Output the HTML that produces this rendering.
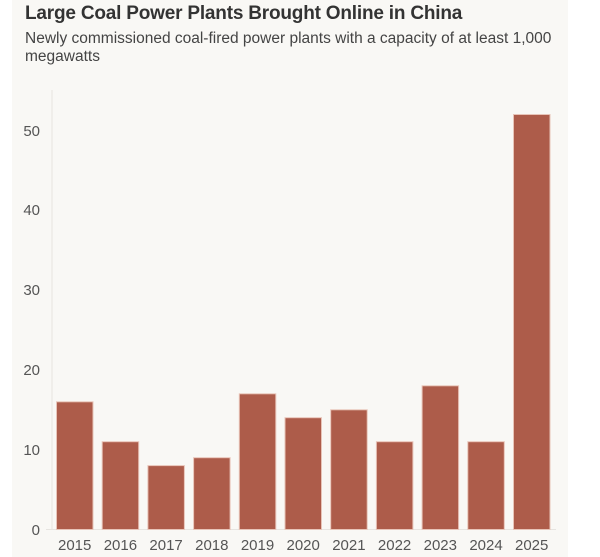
<!DOCTYPE html>
<html><head><style>
body{margin:0;background:#fff;width:600px;height:557px;overflow:hidden;font-family:"Liberation Sans",sans-serif;}
.panel{position:absolute;left:12px;top:0;width:556px;height:557px;background:#f9f8f5;}
h1{position:absolute;left:25px;top:3px;margin:0;font-size:19px;font-weight:bold;color:#333;letter-spacing:-0.2px;}
.sub{position:absolute;left:25px;top:30px;width:540px;font-size:15.5px;line-height:18px;color:#444;}
</style></head><body>
<div class="panel"></div>
<h1>Large Coal Power Plants Brought Online in China</h1>
<div class="sub">Newly commissioned coal-fired power plants with a capacity of at least 1,000 megawatts</div>
<svg width="600" height="557" style="position:absolute;left:0;top:0" font-family="Liberation Sans, sans-serif">
<line x1="52" y1="90" x2="52" y2="530" stroke="#e6e4e0"/>
<line x1="46" y1="529.5" x2="556" y2="529.5" stroke="#e6e4e0"/>
<g font-size="15" fill="#555" text-anchor="end">
<text x="40" y="535">0</text><text x="40" y="455">10</text><text x="40" y="375">20</text>
<text x="40" y="295">30</text><text x="40" y="215">40</text><text x="40" y="136">50</text>
</g>
<g fill="#ad5c4a" stroke="#e8c4b8" stroke-width="1">
<rect x="56.5" y="401.8" width="36.5" height="127.7"/>
<rect x="102.2" y="441.7" width="36.5" height="87.8"/>
<rect x="147.9" y="465.6" width="36.5" height="63.9"/>
<rect x="193.6" y="457.7" width="36.5" height="71.8"/>
<rect x="239.3" y="393.8" width="36.5" height="135.7"/>
<rect x="285" y="417.7" width="36.5" height="111.8"/>
<rect x="330.7" y="409.8" width="36.5" height="119.7"/>
<rect x="376.4" y="441.7" width="36.5" height="87.8"/>
<rect x="422.1" y="385.8" width="36.5" height="143.7"/>
<rect x="467.8" y="441.7" width="36.5" height="87.8"/>
<rect x="513.5" y="114.5" width="36.5" height="415"/>
</g>
<g font-size="15" fill="#555" text-anchor="middle">
<text x="74.7" y="550">2015</text><text x="120.4" y="550">2016</text><text x="166.1" y="550">2017</text>
<text x="211.8" y="550">2018</text><text x="257.5" y="550">2019</text><text x="303.2" y="550">2020</text>
<text x="348.9" y="550">2021</text><text x="394.6" y="550">2022</text><text x="440.3" y="550">2023</text>
<text x="486" y="550">2024</text><text x="531.7" y="550">2025</text>
</g>
</svg>
</body></html>
